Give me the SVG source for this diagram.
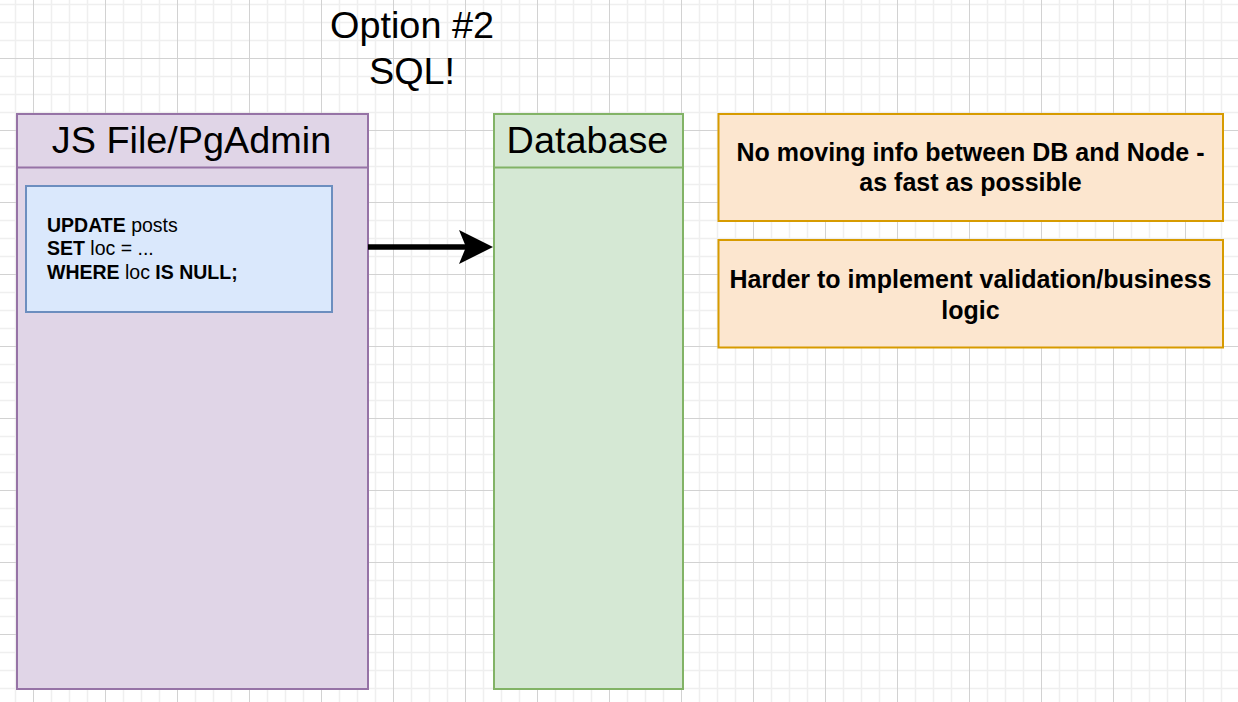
<svg xmlns="http://www.w3.org/2000/svg" width="1238" height="702" viewBox="0 0 1238 702">
<style>
.t{font-family:"Liberation Sans",Arial,Helvetica,sans-serif;fill:#000}
.big{font-size:37.8px}
.code{font-size:19.5px}
.note{font-size:25px;font-weight:bold;text-anchor:middle}
.b{font-weight:bold}
.mid{text-anchor:middle}
</style>
<defs>
<pattern id="grid" x="33" y="58" width="72" height="72" patternUnits="userSpaceOnUse">
<path d="M18.5 0V72M36.5 0V72M54.5 0V72M0 18.5H72M0 36.5H72M0 54.5H72" stroke="#efefef" stroke-width="1.5" fill="none"/>
<path d="M0.5 0V72M0 0.5H72" stroke="#d2d2d2" stroke-width="1" fill="none"/>
</pattern>
<marker id="arrow" markerUnits="userSpaceOnUse" markerWidth="34" markerHeight="34" viewBox="0 0 34 34" refX="16" refY="17" orient="auto">
<path d="M0 0L34 17L0 34L7 17Z" fill="#000"/>
</marker>
</defs>
<rect width="1238" height="702" fill="#fff"/>
<rect width="1238" height="702" fill="url(#grid)"/>

<g id="title">
<text class="t big mid" x="412" y="38">Option #2</text>
<text class="t big mid" x="412" y="84">SQL!</text>
</g>

<g id="js-file">
<rect x="17" y="114" width="351" height="575" fill="#e0d5e7" stroke="#9673a6" stroke-width="2"/>
<line x1="17" y1="167.5" x2="368" y2="167.5" stroke="#9673a6" stroke-width="2"/>
<text class="t big mid" x="191.5" y="153">JS File/PgAdmin</text>
</g>

<g id="sql-code">
<rect x="26" y="186" width="306" height="126" fill="#dae8fc" stroke="#6c8ebf" stroke-width="2"/>
<text class="t code" x="47" y="231.5"><tspan class="b">UPDATE</tspan> posts</text>
<text class="t code" x="47" y="255"><tspan class="b">SET</tspan> loc = ...</text>
<text class="t code" x="47" y="278.5"><tspan class="b">WHERE</tspan> loc <tspan class="b">IS NULL;</tspan></text>
</g>

<g id="database">
<rect x="494" y="114" width="189" height="575" fill="#d5e8d4" stroke="#82b366" stroke-width="2"/>
<line x1="494" y1="167.5" x2="683" y2="167.5" stroke="#82b366" stroke-width="2"/>
<text class="t big mid" x="587.5" y="153">Database</text>
</g>

<g id="note-fast">
<rect x="718.5" y="114" width="504.5" height="107" fill="#fce6cf" stroke="#d79b00" stroke-width="2"/>
<text class="t note" x="970.5" y="160.5">No moving info between DB and Node -</text>
<text class="t note" x="970.5" y="191">as fast as possible</text>
</g>

<g id="note-harder">
<rect x="718.5" y="240" width="504.5" height="107.5" fill="#fce6cf" stroke="#d79b00" stroke-width="2"/>
<text class="t note" x="970.5" y="288">Harder to implement validation/business</text>
<text class="t note" x="970.5" y="318.5">logic</text>
</g>

<g id="connectors">
<line x1="368" y1="247" x2="475" y2="247" stroke="#000" stroke-width="5.5" marker-end="url(#arrow)"/>
</g>
</svg>
